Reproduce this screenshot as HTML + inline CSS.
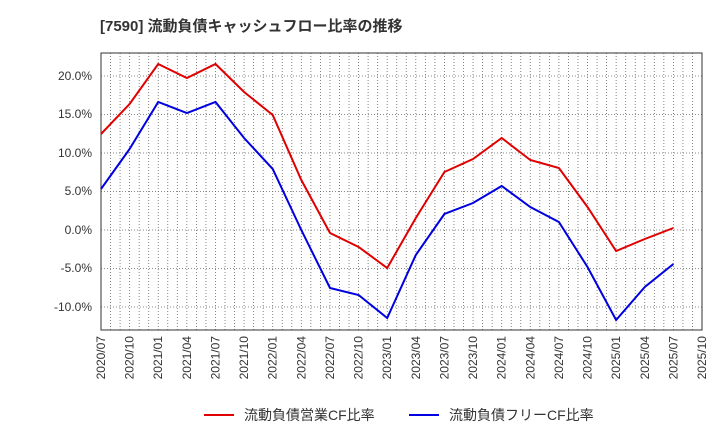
<!DOCTYPE html>
<html><head><meta charset="utf-8"><style>
body{margin:0;background:#fff;}
svg text{font-family:"Liberation Sans","Noto Sans CJK JP",sans-serif;}
</style></head><body>
<svg width="720" height="440" xmlns="http://www.w3.org/2000/svg">
<rect width="720" height="440" fill="#fff"/>
<text x="100" y="31" font-size="15" font-weight="bold" fill="#333">[7590]  流動負債キャッシュフロー比率の推移</text>
<g id="grid" stroke="#666" stroke-width="0.8" stroke-dasharray="1,2">
<line x1="101" x2="702" y1="76" y2="76"/><line x1="101" x2="702" y1="114.5" y2="114.5"/>
<line x1="101" x2="702" y1="153" y2="153"/><line x1="101" x2="702" y1="191.5" y2="191.5"/>
<line x1="101" x2="702" y1="230" y2="230"/><line x1="101" x2="702" y1="268.5" y2="268.5"/>
<line x1="101" x2="702" y1="307" y2="307"/>
</g>
<g id="vg" stroke="#666" stroke-width="0.8" stroke-dasharray="1,2"></g>
<rect x="101" y="53" width="601" height="277" fill="none" stroke="#333" stroke-width="1"/>
<g font-size="12" fill="#333" text-anchor="end">
<text x="92" y="80">20.0%</text><text x="92" y="118">15.0%</text><text x="92" y="157">10.0%</text>
<text x="92" y="195">5.0%</text><text x="92" y="234">0.0%</text><text x="92" y="272">-5.0%</text>
<text x="92" y="311">-10.0%</text>
</g>
<g id="xl" font-size="12" fill="#333"></g>
<polyline id="r" fill="none" stroke="#e00000" stroke-width="2"/>
<polyline id="b" fill="none" stroke="#0000e0" stroke-width="2"/>
<line x1="204" x2="234" y1="415" y2="415" stroke="#e00000" stroke-width="2"/>
<text x="244" y="420" font-size="14" fill="#333">流動負債営業CF比率</text>
<line x1="409" x2="439" y1="415" y2="415" stroke="#0000e0" stroke-width="2"/>
<text x="449" y="420" font-size="14" fill="#333">流動負債フリーCF比率</text>
</svg>
<script>
var x0=101,dx=601/21,ns="http://www.w3.org/2000/svg";
var vg=document.getElementById('vg'),xl=document.getElementById('xl');
for(var k=1;k<63;k++){var x=x0+k*dx/3;
 var l=document.createElementNS(ns,'line');l.setAttribute('x1',x);l.setAttribute('x2',x);l.setAttribute('y1',53);l.setAttribute('y2',330);vg.appendChild(l);}
for(var i=0;i<=21;i++){var x=x0+i*dx;
 var m=7+3*i,y=2020+Math.floor((m-1)/12);m=(m-1)%12+1;
 var t=document.createElementNS(ns,'text');t.textContent=y+'/'+(m<10?'0':'')+m;
 t.setAttribute('transform','translate('+(x+4)+',336) rotate(-90)');t.setAttribute('text-anchor','end');xl.appendChild(t);}
var r=[134,104,64,78,64,92,115,180,233,247,268,218,172,159,138,160,168,207,251,239,228];
var b=[189,149,102,113,102,138,169,230,288,295,318,255,214,203,186,207,222,267,320,287,264];
function p(a){return a.map(function(v,i){return (x0+i*dx).toFixed(1)+','+v}).join(' ');}
document.getElementById('r').setAttribute('points',p(r));
document.getElementById('b').setAttribute('points',p(b));
</script>
</body></html>
